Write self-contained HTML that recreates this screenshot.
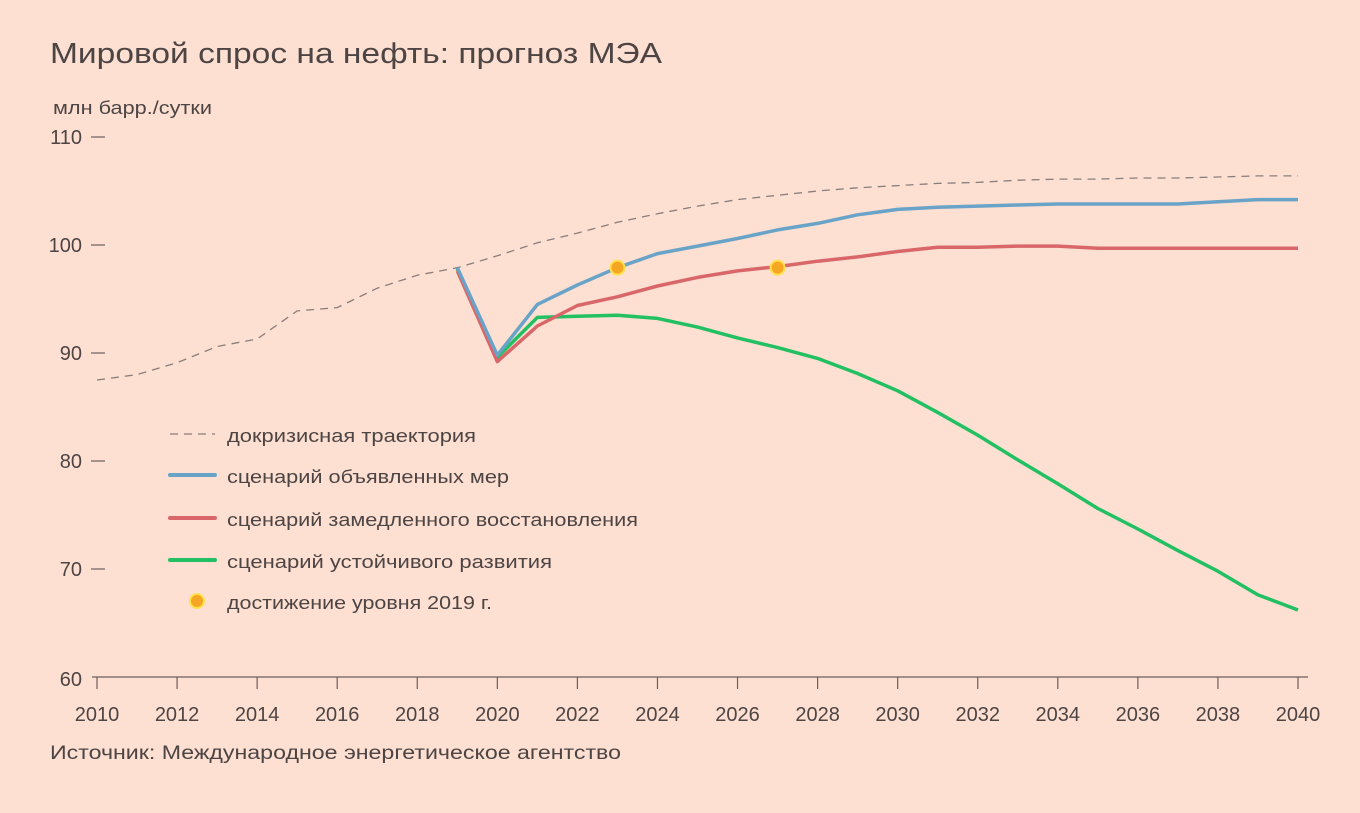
<!DOCTYPE html>
<html><head><meta charset="utf-8">
<style>
html,body{margin:0;padding:0;background:#fde0d2;}
body{width:1360px;height:808px;overflow:hidden;font-family:"Liberation Sans",sans-serif;color:#4d4444;}
svg text{font-family:"Liberation Sans",sans-serif;fill:#4d4444;}
</style></head><body>
<svg width="1360" height="808">
<rect width="1360" height="808" fill="#fde0d2"/>
<text x="50" y="63" font-size="29" textLength="612" lengthAdjust="spacingAndGlyphs">Мировой спрос на нефть: прогноз МЭА</text>
<text x="53" y="114" font-size="18" textLength="159" lengthAdjust="spacingAndGlyphs">млн барр./сутки</text>
<text x="50" y="759" font-size="19" textLength="571" lengthAdjust="spacingAndGlyphs">Источник: Международное энергетическое агентство</text>
<g id="axes"></g>
<g id="series"></g>
<g id="legend">
 <line x1="170" y1="434" x2="215" y2="434" stroke="#8a7d7a" stroke-width="1.3" stroke-dasharray="8,6"/>
 <text x="227" y="442" font-size="18" textLength="249" lengthAdjust="spacingAndGlyphs">докризисная траектория</text>
 <line x1="170" y1="475" x2="215" y2="475" stroke="#6aa3c8" stroke-width="4" stroke-linecap="round"/>
 <text x="227" y="483" font-size="18" textLength="282" lengthAdjust="spacingAndGlyphs">сценарий объявленных мер</text>
 <line x1="170" y1="518" x2="215" y2="518" stroke="#d9676a" stroke-width="4" stroke-linecap="round"/>
 <text x="227" y="526" font-size="18" textLength="411" lengthAdjust="spacingAndGlyphs">сценарий замедленного восстановления</text>
 <line x1="170" y1="560" x2="215" y2="560" stroke="#22c063" stroke-width="4" stroke-linecap="round"/>
 <text x="227" y="568" font-size="18" textLength="325" lengthAdjust="spacingAndGlyphs">сценарий устойчивого развития</text>
 <circle cx="197" cy="601" r="7" fill="#f5a623" stroke="#ffe14d" stroke-width="2"/>
 <text x="227" y="609" font-size="18" textLength="265" lengthAdjust="spacingAndGlyphs">достижение уровня 2019 г.</text>
</g>
</svg>
<script>
const years=[2010,2011,2012,2013,2014,2015,2016,2017,2018,2019,2020,2021,2022,2023,2024,2025,2026,2027,2028,2029,2030,2031,2032,2033,2034,2035,2036,2037,2038,2039,2040];
const preCrisis=[87.5,88,89.1,90.6,91.3,93.9,94.2,96.0,97.2,97.9,99.0,100.2,101.1,102.1,102.9,103.6,104.2,104.6,105.0,105.3,105.5,105.7,105.8,106.0,106.1,106.1,106.2,106.2,106.3,106.4,106.4];
const scenYears=[2019,2020,2021,2022,2023,2024,2025,2026,2027,2028,2029,2030,2031,2032,2033,2034,2035,2036,2037,2038,2039,2040];
const stated=[97.9,89.8,94.5,96.3,97.9,99.2,99.9,100.6,101.4,102.0,102.8,103.3,103.5,103.6,103.7,103.8,103.8,103.8,103.8,104.0,104.2,104.2];
const delayed=[97.6,89.2,92.5,94.4,95.2,96.2,97.0,97.6,98.0,98.5,98.9,99.4,99.8,99.8,99.9,99.9,99.7,99.7,99.7,99.7,99.7,99.7];
const sustainable=[97.8,89.6,93.3,93.4,93.5,93.2,92.4,91.4,90.5,89.5,88.1,86.5,84.5,82.4,80.1,77.9,75.6,73.7,71.7,69.8,67.6,66.2];
const markerYears=[2023,2027];
const markerValues=[97.9,97.9];
const yTicks=[60,70,80,90,100,110];
const xTicks=[2010,2012,2014,2016,2018,2020,2022,2024,2026,2028,2030,2032,2034,2036,2038,2040];

const NS="http://www.w3.org/2000/svg";
const X=y=>97+(y-2010)*(1298-97)/30;
const Y=v=>677-(v-60)*10.8;
function mk(tag,attrs,parent){const e=document.createElementNS(NS,tag);for(const k in attrs)e.setAttribute(k,attrs[k]);parent.appendChild(e);return e;}
const ax=document.getElementById('axes');
let base=mk('line',{x1:92,y1:677,x2:1308,y2:677,stroke:'#6b5f5c','stroke-width':1.2},ax);


yTicks.forEach(v=>{
 if(v>60){const t=mk('line',{x1:91,y1:Y(v),x2:105,y2:Y(v),stroke:'#6b5f5c','stroke-width':1.2},ax);
 
 }
 const l=mk('text',{x:v==60?82:82,y:Y(v)+(v==60?9:7),'font-size':20,'text-anchor':'end',fill:'#6b5f5c'},ax);
 l.textContent=v;
 
 
});
xTicks.forEach(yr=>{
 const t=mk('line',{x1:X(yr),y1:677,x2:X(yr),y2:689,stroke:'#6b5f5c','stroke-width':1.2},ax);
 
 
 const l=mk('text',{x:X(yr),y:721,'font-size':20,'text-anchor':'middle',fill:'#6b5f5c'},ax);
 l.textContent=yr;
 
 
});
const sg=document.getElementById('series');
function pts(xs,vs){return xs.map((x,i)=>X(x).toFixed(1)+','+Y(vs[i]).toFixed(1)).join(' ');}
let p=mk('polyline',{points:pts(years,preCrisis),fill:'none',stroke:'#8a7d7a','stroke-width':1.3,'stroke-dasharray':'8,6'},sg);


p=mk('polyline',{points:pts(scenYears,sustainable),fill:'none',stroke:'#22c063','stroke-width':3.5,'stroke-linejoin':'round'},sg);


p=mk('polyline',{points:pts(scenYears,delayed),fill:'none',stroke:'#d9676a','stroke-width':3.5,'stroke-linejoin':'round'},sg);


p=mk('polyline',{points:pts(scenYears,stated),fill:'none',stroke:'#6aa3c8','stroke-width':3.5,'stroke-linejoin':'round'},sg);


markerYears.forEach((yr,i)=>{
 const c=mk('circle',{cx:X(yr),cy:Y(markerValues[i]),r:7,fill:'#f5a623',stroke:'#ffe14d','stroke-width':2},sg);
 
 
});
</script>
</body></html>
